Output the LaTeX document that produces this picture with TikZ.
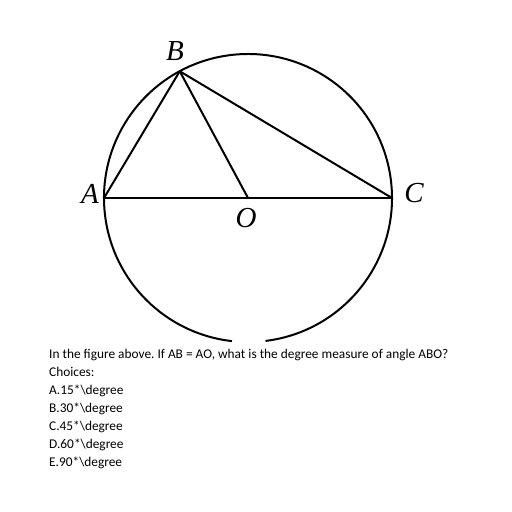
\documentclass[tikz,border=0pt]{standalone}
\usepackage{fontspec}
\setmainfont{Carlito}
\newfontfamily\labelfont{Liberation Serif}
\usepackage{tikz}
\usetikzlibrary{calc}

\tikzset{
  geo/.style={line width=2pt, line join=round},
  ptlabel/.style={font=\labelfont\itshape\fontsize{29}{29}\selectfont, inner sep=0pt},
  qline/.style={anchor=base west, inner sep=0pt, font=\fontsize{13.35}{17.9}\selectfont}
}

\begin{document}
\frenchspacing
\begin{tikzpicture}[x=1pt,y=1pt]
  \useasboundingbox (0,0) rectangle (512,-512);

  %% Circle points
  \coordinate (O) at (248,-198);
  \coordinate (A) at ($(O)+(180:144)$);
  \coordinate (C) at ($(O)+(0:144)$);
  \coordinate (B) at ($(O)+(118.3:144)$);
  \coordinate (gap) at ($(O)+(277:144)$);

  %% Circle with gap at the bottom
  \draw[geo] (gap) arc[start angle=277, end angle=623.6, radius=144];

  %% Chords and radius
  \draw[geo] (A) -- (C);
  \draw[geo] (A) -- (B) -- (C);
  \draw[geo] (B) -- (O);

  %% Point labels
  \node[ptlabel] (lA) at (90,-194)  {A};
  \node[ptlabel] (lB) at (175,-51)  {B};
  \node[ptlabel] (lC) at (414,-193) {C};
  \node[ptlabel] (lO) at (246,-218) {O};

  %% Question text
  \node[qline] (q)  at (49,-358)   {In the figure above. If AB = AO, what is the degree measure of angle ABO?};
  \node[qline] (ch) at (49,-376.7) {Choices:};
  \node[qline] (oA) at (49,-394.5) {A.15*\textbackslash degree};
  \node[qline] (oB) at (49,-412.4) {B.30*\textbackslash degree};
  \node[qline] (oC) at (49,-430.3) {C.45*\textbackslash degree};
  \node[qline] (oD) at (49,-448.2) {D.60*\textbackslash degree};
  \node[qline] (oE) at (49,-466.1) {E.90*\textbackslash degree};
\end{tikzpicture}
\end{document}
